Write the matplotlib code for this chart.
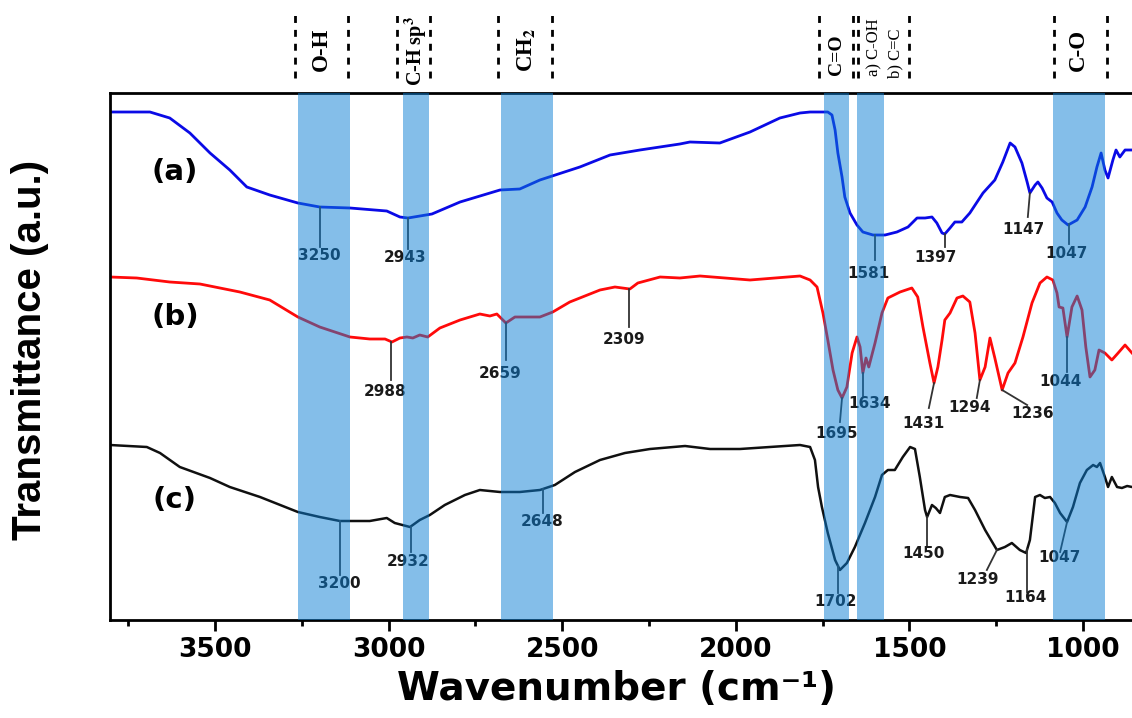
import numpy as np
import matplotlib
matplotlib.use('Agg')
import matplotlib.pyplot as plt
from matplotlib.ticker import MultipleLocator
import matplotlib.transforms as mtransforms

plt.rcParams['mathtext.fontset'] = 'stix'

# FTIR spectra (wavenumber in cm-1, transmittance in a.u.)
wn_a = [3802, 3687, 3630, 3572, 3514, 3457, 3408, 3342, 3261, 3198, 3111, 3005, 2967, 2944,
        2875, 2794, 2679, 2622, 2564, 2449, 2362, 2276, 2161, 2132, 2046, 1959, 1873, 1815,
        1786, 1735, 1723, 1714, 1706, 1694, 1686, 1671, 1651, 1634, 1605, 1570, 1536, 1504,
        1478, 1455, 1435, 1421, 1406, 1398, 1383, 1369, 1349, 1326, 1288, 1254, 1231, 1210,
        1196, 1176, 1161, 1153, 1138, 1130, 1118, 1104, 1089, 1075, 1061, 1043, 1017, 994,
        974, 960, 948, 937, 928, 914, 905, 894, 879, 859]
t_a = [101.6, 101.6, 100.4, 97.4, 93.4, 90.0, 86.6, 85.0, 83.4, 82.6, 82.4, 81.8, 80.6, 80.4,
       81.2, 83.6, 86.0, 86.2, 88.0, 90.6, 93.0, 94.0, 95.2, 95.6, 95.4, 97.6, 100.4, 101.4,
       101.6, 101.6, 101.0, 98.0, 93.4, 88.6, 84.6, 81.4, 79.0, 77.6, 77.0, 77.0, 77.6, 78.6,
       80.4, 80.4, 80.6, 79.4, 77.4, 77.2, 78.4, 79.6, 79.6, 81.4, 85.4, 88.0, 91.6, 95.4,
       94.6, 91.4, 87.6, 85.4, 87.0, 87.6, 86.4, 84.4, 83.6, 81.4, 80.0, 79.0, 80.0, 82.6,
       86.6, 90.6, 93.4, 90.0, 88.4, 92.0, 94.0, 92.6, 94.0, 94.0]

wn_b = [3802, 3725, 3630, 3543, 3428, 3342, 3261, 3198, 3111, 3054, 3010, 2990, 2967, 2947,
        2930, 2910, 2887, 2852, 2794, 2737, 2708, 2688, 2662, 2636, 2593, 2564, 2527, 2478,
        2391, 2348, 2305, 2282, 2218, 2161, 2103, 1959, 1815, 1786, 1766, 1749, 1735, 1720,
        1706, 1694, 1680, 1665, 1651, 1642, 1634, 1625, 1617, 1599, 1579, 1562, 1527, 1493,
        1476, 1461, 1441, 1429, 1418, 1406, 1398, 1383, 1363, 1346, 1326, 1311, 1297, 1282,
        1268, 1254, 1233, 1216, 1196, 1173, 1147, 1124, 1104, 1087, 1075, 1069, 1058, 1046,
        1032, 1017, 1003, 992, 980, 966, 954, 937, 917, 899, 879, 859]
t_b = [68.6, 68.4, 67.6, 67.2, 65.6, 64.0, 60.6, 58.6, 56.6, 56.2, 56.2, 55.6, 56.4, 56.6,
       56.4, 57.0, 56.6, 58.4, 60.0, 61.2, 60.8, 61.2, 59.4, 60.6, 60.6, 60.6, 61.6, 63.6,
       66.0, 66.6, 66.2, 67.4, 68.6, 68.4, 68.8, 68.0, 68.8, 68.0, 66.6, 61.4, 56.0, 50.0,
       46.0, 44.4, 46.6, 53.4, 56.6, 54.6, 49.4, 52.4, 50.6, 55.4, 61.4, 64.4, 65.6, 66.4,
       64.6, 58.6, 51.4, 47.4, 50.6, 56.0, 60.0, 61.4, 64.4, 64.8, 63.6, 57.4, 48.0, 50.6,
       56.4, 52.4, 46.0, 49.4, 51.4, 56.6, 63.4, 67.4, 68.6, 68.0, 65.4, 62.6, 62.4, 56.6,
       62.6, 64.8, 62.0, 54.6, 48.6, 50.0, 54.0, 53.4, 52.0, 53.4, 55.0, 53.4]

wn_c = [3802, 3696, 3658, 3601, 3514, 3457, 3370, 3261, 3198, 3140, 3111, 3054, 3005, 2982,
        2938, 2910, 2881, 2838, 2780, 2737, 2679, 2622, 2564, 2521, 2463, 2391, 2319, 2247,
        2146, 2074, 1988, 1902, 1815, 1786, 1772, 1763, 1752, 1735, 1714, 1700, 1680, 1657,
        1628, 1599, 1579, 1562, 1542, 1519, 1498, 1484, 1470, 1455, 1449, 1435, 1424, 1412,
        1398, 1383, 1354, 1331, 1311, 1282, 1248, 1225, 1205, 1182, 1164, 1153, 1138, 1124,
        1110, 1095, 1081, 1066, 1046, 1029, 1009, 989, 971, 960, 951, 937, 928, 917, 902,
        888, 873, 859]
t_c = [35.0, 34.6, 33.4, 30.6, 28.4, 26.6, 24.6, 21.6, 20.6, 19.8, 19.8, 19.8, 20.4, 19.4,
       18.6, 20.0, 21.0, 23.0, 25.0, 26.0, 25.6, 25.6, 26.0, 27.0, 29.6, 32.0, 33.4, 34.2,
       34.8, 34.2, 34.2, 34.6, 35.0, 34.6, 32.0, 26.6, 22.6, 17.4, 12.0, 10.0, 11.4, 14.6,
       19.4, 24.6, 29.0, 30.0, 30.0, 32.6, 34.6, 34.2, 28.6, 22.0, 20.6, 23.0, 22.4, 21.4,
       24.6, 25.0, 24.6, 24.4, 22.0, 18.0, 14.0, 14.6, 15.4, 14.0, 13.4, 16.0, 24.6, 25.0,
       24.4, 24.6, 23.4, 21.4, 19.6, 22.6, 27.4, 30.0, 31.0, 30.6, 31.4, 28.6, 26.6, 28.6,
       26.6, 26.4, 26.8, 26.6]

# labelled peaks
peaks_a = ['3250', '2943', '1581', '1397', '1147', '1047']
peak_x_a = [3198, 2944, 1600, 1398, 1153, 1040]
peaks_b = ['2988', '2659', '2309', '1695', '1634', '1431', '1294', '1236', '1044']
peak_x_b = [2993, 2662, 2308, 1694, 1634, 1429, 1297, 1233, 1046]
peaks_c = ['3200', '2932', '2648', '1702', '1450', '1239', '1164', '1047']
peak_x_c = [3140, 2936, 2555, 1706, 1449, 1248, 1161, 1046]

# highlighted bands
band_lo = [3111, 2884, 2527, 1674, 1573, 937]
band_hi = [3261, 2959, 2676, 1746, 1651, 1086]
groups = ['O-H', 'C-H sp$^{\\mathbf{3}}$', 'CH$_{\\mathbf{2}}$', 'C=O', 'a) C-OH', 'b) C=C', 'C-O']
group_x = [3192, 2921, 2604, 1709, 1602, 1539, 1014]
dash_x = [3270, 3117, 2976, 2881, 2685, 2529, 1761, 1663, 1648, 1501, 1084, 931]

# layout of the annotation leaders: (line end x, line end y, text x, text y)
lay_a = [(3198, 74.6, 3200, 72.8), (2944, 74.2, 2953, 72.4), (1600, 72.0, 1617, 69.4),
         (1398, 74.6, 1426, 72.6), (1159, 80.6, 1173, 78.2), (1040, 75.2, 1049, 73.2)]
lay_b = [(2993, 48.0, 3010, 45.6), (2662, 52.0, 2679, 49.4), (2308, 58.6, 2322, 56.2),
         (1700, 39.6, 1709, 37.4), (1634, 44.8, 1614, 43.4), (1444, 42.4, 1461, 39.2),
         (1306, 44.4, 1326, 42.6), (1161, 43.0, 1144, 41.4), (1046, 49.6, 1066, 47.6)]
lay_c = [(3140, 9.0, 3143, 7.4), (2936, 13.6, 2944, 11.6), (2555, 21.4, 2558, 19.6),
         (1706, 5.4, 1712, 3.8), (1449, 14.6, 1458, 13.2), (1277, 10.0, 1303, 8.2),
         (1161, 5.6, 1167, 4.6), (1066, 13.6, 1068, 12.4)]

fig = plt.figure(figsize=(11.32, 7.18), dpi=100)
ax = fig.add_axes([110 / 1132, 1 - 620 / 718, 1 - 110 / 1132, 527 / 718])

series = [(wn_a, t_a, '#0a0ae6', 2.0, peaks_a, peak_x_a, lay_a, '(a)', 89.6),
          (wn_b, t_b, '#ff0a0a', 2.0, peaks_b, peak_x_b, lay_b, '(b)', 60.6),
          (wn_c, t_c, '#101010', 1.8, peaks_c, peak_x_c, lay_c, '(c)', 24.0)]

for wn, t, col, lw, labs, px, lay, tag, tag_y in series:
    ax.plot(wn, t, color=col, lw=lw, zorder=2, solid_joinstyle='round')
    ax.text(3615, tag_y, tag, fontsize=21, fontweight='bold', ha='center', va='center')
    for lab, x0, (x1, y1, xt, yt) in zip(labs, px, lay):
        y0 = np.interp(x0, wn[::-1], t[::-1])
        ax.plot([x0, x1], [y0, y1], color='#333333', lw=1.3, zorder=2)
        ax.text(xt, yt, lab, fontsize=11, fontweight='bold', color='#1a1a1a',
                ha='center', va='center', zorder=3)

for lo, hi in zip(band_lo, band_hi):
    ax.axvspan(lo, hi, color='#0b7fd5', alpha=0.5, lw=0, zorder=4)

trans = mtransforms.blended_transform_factory(ax.transData, ax.transAxes)
for x in dash_x:
    ax.plot([x, x], [1.0285, 1.148], transform=trans, color='black', lw=2,
            linestyle=(0, (2.5, 2.5)), clip_on=False)

for i, (g, gx) in enumerate(zip(groups, group_x)):
    small = g.startswith(('a)', 'b)'))
    if small:
        size, gy = 12, (1.087 if i == 4 else 1.076)
    elif g == 'C=O':
        size, gy = 14, 1.072
    elif 'sp' in g:
        size, gy = 14.5, 1.080
    else:
        size, gy = 16.5, 1.082
    ax.text(gx, gy, g, transform=trans, rotation=90, ha='center', va='center',
            family='Liberation Serif', fontsize=size,
            fontweight='normal' if small else 'bold')

ax.set_xlim(3802, 859)
ax.set_ylim(0, 105.4)
ax.set_yticks([])
ax.xaxis.set_major_locator(MultipleLocator(500))
ax.xaxis.set_minor_locator(MultipleLocator(250))
ax.tick_params(axis='x', which='major', direction='out', length=8, width=2, labelsize=19, pad=4)
ax.tick_params(axis='x', which='minor', direction='out', length=4, width=2)
for lab in ax.get_xticklabels():
    lab.set_fontweight('bold')
for side in ['top', 'left', 'bottom']:
    ax.spines[side].set_linewidth(2)
ax.spines['right'].set_visible(False)

ax.set_xlabel('Wavenumber (cm⁻¹)', fontsize=28, fontweight='bold')
ax.xaxis.set_label_coords(0.496, -0.095)
ax.set_ylabel('Transmittance (a.u.)', fontsize=29, fontweight='bold', family='Liberation Sans')
ax.yaxis.set_label_coords(-0.078, 0.512)
ax.yaxis.label.set_va('center')

fig.savefig('out.png', dpi=100)
